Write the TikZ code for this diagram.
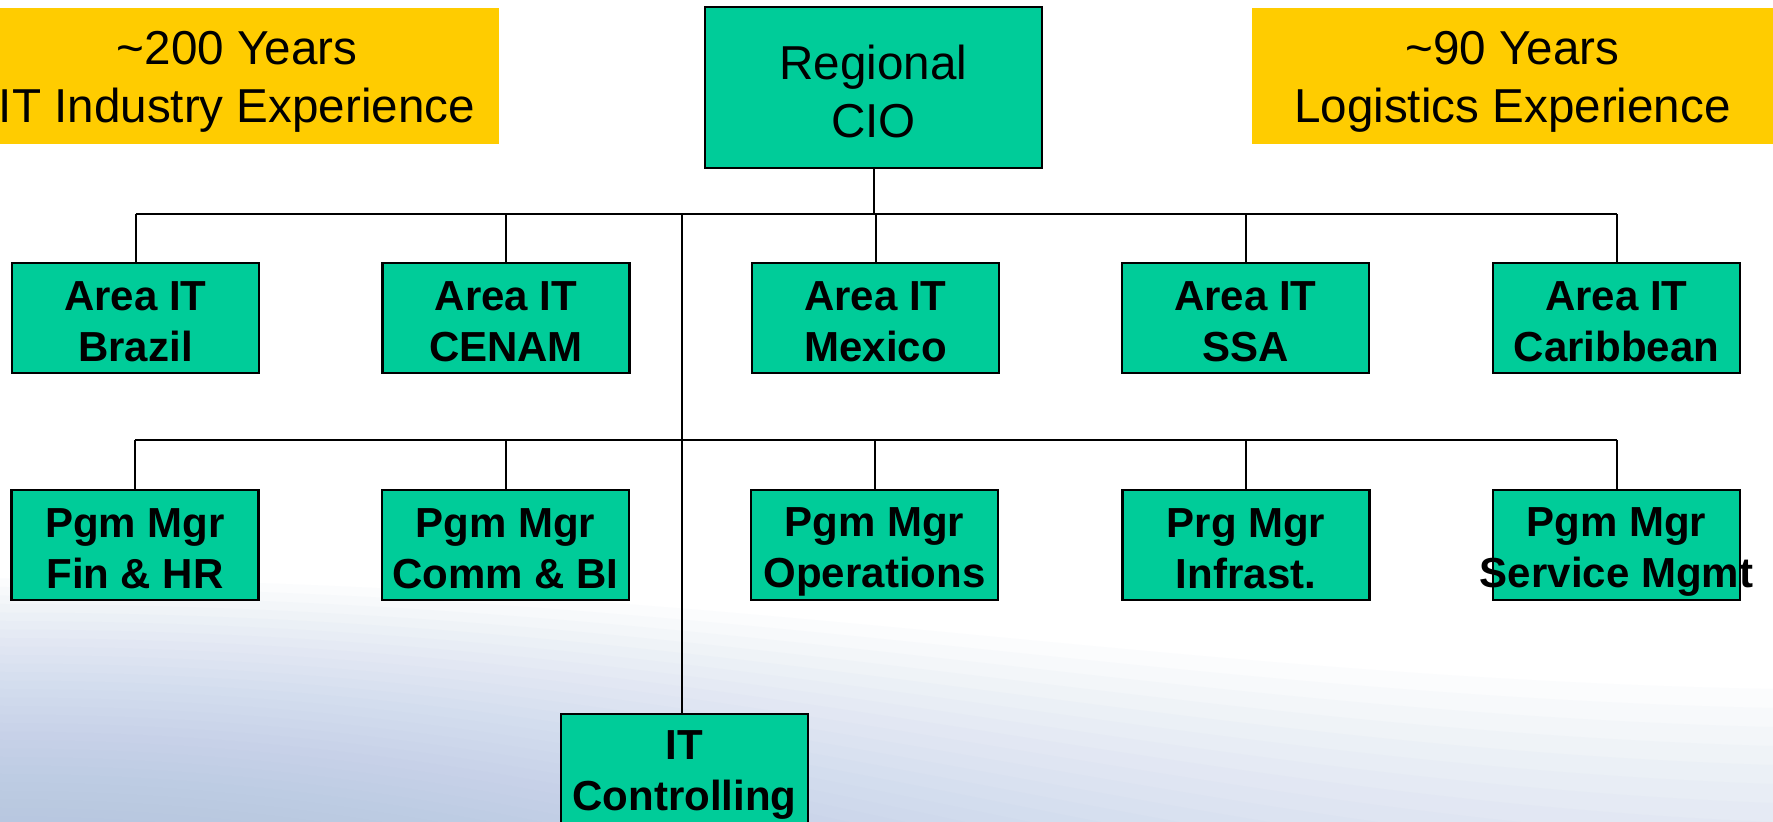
\documentclass[tikz,border=0pt]{standalone}
\usepackage{fontspec}
\setmainfont{Liberation Sans}
\definecolor{boxgreen}{HTML}{00CC99}
\definecolor{boxyellow}{HTML}{FFCC00}
\definecolor{bgblue}{HTML}{A6BAE0}
\begin{document}
\begin{tikzpicture}[x=0.5pt,y=-0.5pt,
  orgbox/.style={draw=black, line width=1.1pt, fill=boxgreen, inner sep=0pt,
    minimum width=123.5pt, minimum height=55pt},
  ciobox/.style={draw=black, line width=1.1pt, fill=boxgreen, inner sep=0pt,
    minimum width=168.5pt, minimum height=80.5pt},
  notebox/.style={fill=boxyellow, inner sep=0pt, minimum height=68pt},
  boldtext/.style={align=center, inner sep=0pt, yshift=-2pt,
    font=\fontsize{21pt}{25.5pt}\selectfont\bfseries},
  plaintext/.style={align=center, inner sep=0pt, yshift=-3pt,
    font=\fontsize{23.8pt}{29pt}\selectfont},
  link/.style={line width=1pt, draw=black}]
\useasboundingbox (0,0) rectangle (1773,822);
\clip (0,0) rectangle (1773,822);
\fill[white] (0,0) rectangle (1773,822);
% soft background swoosh
\foreach \i in {1,...,30} {
  \fill[bgblue, opacity=0.045]
    (0,{570+8.5*\i}) .. controls (700,{570+8.5*\i}) and (1150,{660+17*\i}) .. (1773,{670+19*\i})
    -- (1773,830) -- (0,830) -- cycle;
}

% experience notes
\node[notebox, minimum width=262pt,
  label={[plaintext, name=yl-t]center:\textasciitilde200 Years\\IT Industry Experience}] (yl) at (237,76) {};
\node[notebox, minimum width=260.5pt,
  label={[plaintext, name=yr-t]center:\textasciitilde90 Years\\Logistics Experience}] (yr) at (1512.5,76) {};

% head
\node[ciobox, label={[plaintext, yshift=1.2pt, name=cio-t]center:Regional\\CIO}] (cio) at (873.5,87.5) {};

% area row
\node[orgbox, label={[boldtext, name=bra-t]center:Area IT\\Brazil}] (bra) at (135.5,318) {};
\node[orgbox, label={[boldtext, name=cen-t]center:Area IT\\CENAM}] (cen) at (506,318) {};
\node[orgbox, label={[boldtext, name=mex-t]center:Area IT\\Mexico}] (mex) at (875.5,318) {};
\node[orgbox, label={[boldtext, name=ssa-t]center:Area IT\\SSA}] (ssa) at (1245.5,318) {};
\node[orgbox, label={[boldtext, name=car-t]center:Area IT\\Caribbean}] (car) at (1616.5,318) {};

% program row
\node[orgbox, label={[boldtext, name=fin-t]center:Pgm Mgr\\Fin \& HR}] (fin) at (135,545) {};
\node[orgbox, label={[boldtext, name=com-t]center:Pgm Mgr\\Comm \& BI}] (com) at (505.5,545) {};
\node[orgbox, label={[boldtext, yshift=-1.7pt, name=ops-t]center:Pgm Mgr\\Operations}] (ops) at (874.5,545) {};
\node[orgbox, label={[boldtext, name=inf-t]center:Prg Mgr\\Infrast.}] (inf) at (1246,545) {};
\node[orgbox, label={[boldtext, yshift=-1.7pt, name=svc-t]center:\makebox[0pt]{Pgm Mgr}\\\makebox[0pt]{Service Mgmt}}] (svc) at (1616.5,545) {};

% controlling
\node[orgbox, label={[boldtext, yshift=-1.2pt, name=ctl-t]center:IT\\Controlling}] (ctl) at (684.5,769) {};

% buses
\coordinate (bus1) at (682,214);
\coordinate (bus2) at (682,440);

\draw[link] (cio.south) -- (cio.south |- bus1);
\draw[link] (bra.north |- bus1) -- (car.north |- bus1);
\foreach \n in {bra,cen,mex,ssa,car} {
  \draw[link] (\n.north |- bus1) -- (\n.north);
}
\draw[link] (bus1) -- (ctl.north -| bus1);
\draw[link] (fin.north |- bus2) -- (svc.north |- bus2);
\foreach \n in {fin,com,ops,inf,svc} {
  \draw[link] (\n.north |- bus2) -- (\n.north);
}
\end{tikzpicture}
\end{document}
